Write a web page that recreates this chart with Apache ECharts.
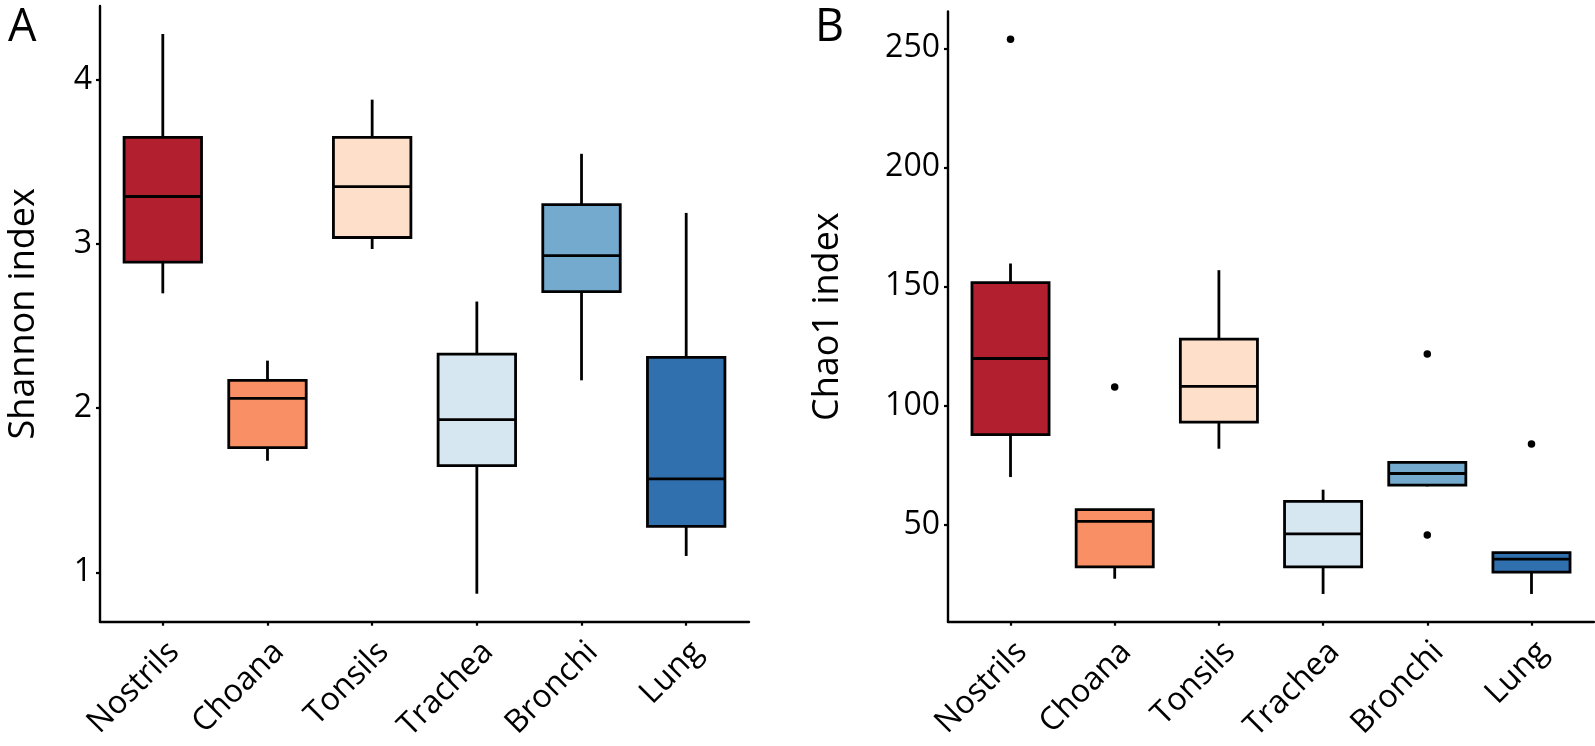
<!DOCTYPE html>
<html>
<head>
<meta charset="utf-8">
<script src="https://cdn.jsdelivr.net/npm/echarts@6/dist/echarts.min.js"></script>
<style>
  html, body { margin: 0; padding: 0; background: #fff; }
  #chart { width: 1595px; height: 746px; }
</style>
</head>
<body>
<div id="chart"></div>
<script>
// ---- data ----
const categories = ['Nostrils', 'Choana', 'Tonsils', 'Trachea', 'Bronchi', 'Lung'];

// Panel A: Shannon index (lower whisker, Q1, median, Q3, upper whisker)
const shannonLow    = [2.70, 1.68, 2.97, 0.87, 2.17, 1.10];
const shannonQ1     = [2.89, 1.76, 3.04, 1.65, 2.71, 1.28];
const shannonMedian = [3.29, 2.06, 3.35, 1.93, 2.93, 1.57];
const shannonQ3     = [3.65, 2.17, 3.65, 2.33, 3.24, 2.31];
const shannonHigh   = [4.28, 2.29, 3.88, 2.65, 3.55, 3.19];
const shannonTicks  = [1, 2, 3, 4];

// Panel B: Chao1 index
const chaoLow    = [69.9, 27.2, 81.8, 20.8, 66.0, 20.8];
const chaoQ1     = [87.7, 32.2, 93.0, 32.2, 66.5, 30.0];
const chaoMedian = [119.7, 51.3, 108.0, 46.0, 71.4, 35.4];
const chaoQ3     = [151.6, 56.2, 127.8, 59.7, 76.1, 38.2];
const chaoHigh   = [159.6, 56.2, 156.8, 64.6, 76.5, 38.2];
const chaoOutlierCategory = ['Nostrils', 'Choana', 'Bronchi', 'Bronchi', 'Lung'];
const chaoOutlierValue    = [253.8, 107.7, 121.6, 45.6, 83.8];
const chaoTicks = [50, 100, 150, 200, 250];

// ---- styles ----
const palette = ['#B2202F', '#F99065', '#FDDFCA', '#D6E7F1', '#73AACE', '#3170AF'];
const FONT = '"Open Sans", "Noto Sans", sans-serif';

function boxData(lo, q1, med, q3, hi) {
  return categories.map((c, i) => [i + 1, lo[i], q1[i], med[i], q3[i], hi[i]]);
}
function range(arrs) {
  const all = [].concat(...arrs);
  const lo = Math.min(...all), hi = Math.max(...all);
  const pad = (hi - lo) * 0.05;
  return [lo - pad, hi + pad];
}
const rA = range([shannonLow, shannonHigh]);
const rB = range([chaoLow, chaoHigh, chaoOutlierValue]);

function renderBox(params, api) {
  const x = api.value(0);
  const pLow = api.coord([x, api.value(1)]);
  const pQ1 = api.coord([x, api.value(2)]);
  const pMed = api.coord([x, api.value(3)]);
  const pQ3 = api.coord([x, api.value(4)]);
  const pHigh = api.coord([x, api.value(5)]);
  const w = api.size([0.74, 0])[0];
  const cx = pMed[0];
  const lw = 2.8;
  const st = { stroke: '#000', lineWidth: lw };
  return {
    type: 'group',
    children: [
      { type: 'line', shape: { x1: cx, y1: pHigh[1], x2: cx, y2: pQ3[1] }, style: st },
      { type: 'line', shape: { x1: cx, y1: pQ1[1], x2: cx, y2: pLow[1] }, style: st },
      { type: 'rect', shape: { x: cx - w / 2, y: pQ3[1], width: w, height: pQ1[1] - pQ3[1] },
        style: { fill: palette[params.dataIndex], stroke: '#000', lineWidth: lw } },
      { type: 'line', shape: { x1: cx - w / 2, y1: pMed[1], x2: cx + w / 2, y2: pMed[1] }, style: st }
    ]
  };
}

function xAxisDef(gridIndex) {
  return {
    type: 'value', gridIndex, min: 0.4, max: 6.6,
    splitLine: { show: false },
    axisLine: { show: true, lineStyle: { color: '#000', width: 2.4 } },
    axisTick: { show: true, length: 4, lineStyle: { color: '#000', width: 2.2 }, customValues: [1, 2, 3, 4, 5, 6] },
    axisLabel: {
      customValues: [1, 2, 3, 4, 5, 6],
      formatter: v => categories[Math.round(v) - 1] || '',
      rotate: 45, align: 'right', verticalAlign: 'top', margin: 14,
      color: '#000', fontSize: 32, fontFamily: FONT
    }
  };
}
function yAxisDef(gridIndex, r, ticks, name, gap) {
  return {
    type: 'value', gridIndex, min: r[0], max: r[1],
    name, nameLocation: 'middle', nameGap: gap,
    nameTextStyle: { color: '#000', fontSize: 36, fontFamily: FONT },
    splitLine: { show: false },
    axisLine: { show: true, lineStyle: { color: '#000', width: 2.4 } },
    axisTick: { show: true, length: 4, lineStyle: { color: '#000', width: 2.2 }, customValues: ticks },
    axisLabel: { customValues: ticks, margin: 8, color: '#000', fontSize: 32, fontFamily: FONT }
  };
}

const chart = echarts.init(document.getElementById('chart'), null, { renderer: 'canvas' });
chart.setOption({
  animation: false,
  backgroundColor: '#fff',
  grid: [
    { left: 100, top: 6, width: 649, bottom: 124.3 },
    { left: 948, top: 11.5, right: 1, bottom: 124.3 }
  ],
  xAxis: [xAxisDef(0), xAxisDef(1)],
  yAxis: [
    yAxisDef(0, rA, shannonTicks, 'Shannon index', 58),
    yAxisDef(1, rB, chaoTicks, 'Chao1 index', 102)
  ],
  graphic: [
    { type: 'text', x: 8, y: 28, style: { text: 'A', font: '45px "Open Sans"', fill: '#000', verticalAlign: 'middle' } },
    { type: 'text', x: 815, y: 28, style: { text: 'B', font: '45px "Open Sans"', fill: '#000', verticalAlign: 'middle' } }
  ],
  series: [
    { type: 'custom', xAxisIndex: 0, yAxisIndex: 0, renderItem: renderBox,
      encode: { x: 0, y: [1, 2, 3, 4, 5] },
      data: boxData(shannonLow, shannonQ1, shannonMedian, shannonQ3, shannonHigh) },
    { type: 'custom', xAxisIndex: 1, yAxisIndex: 1, renderItem: renderBox,
      encode: { x: 0, y: [1, 2, 3, 4, 5] },
      data: boxData(chaoLow, chaoQ1, chaoMedian, chaoQ3, chaoHigh) },
    { type: 'scatter', xAxisIndex: 1, yAxisIndex: 1, symbol: 'circle', symbolSize: 7.5,
      itemStyle: { color: '#000', opacity: 1 },
      data: chaoOutlierCategory.map((c, i) => [categories.indexOf(c) + 1, chaoOutlierValue[i]]) }
  ]
});
</script>
</body>
</html>
